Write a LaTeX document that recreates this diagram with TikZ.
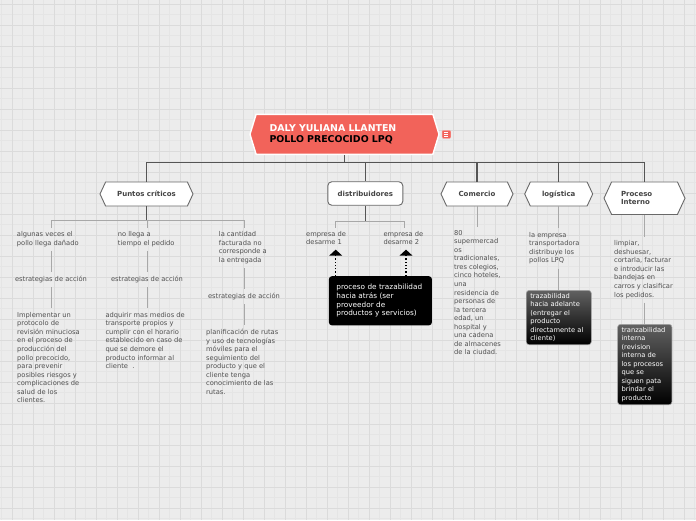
\documentclass[tikz,border=0pt]{standalone}
\usepackage{fontspec}
\setmainfont{DejaVu Sans}
\usepackage{tikz}
\usetikzlibrary{arrows.meta,positioning,calc,shapes.symbols}
\definecolor{mapbg}{RGB}{236,236,236}
\definecolor{mapgridmajor}{RGB}{219,219,219}
\definecolor{mapgridminor}{RGB}{229,229,229}
\definecolor{maptitle}{RGB}{242,99,90}
\definecolor{mapline}{RGB}{85,85,85}
\definecolor{mapthin}{RGB}{168,168,168}
\definecolor{mapedge}{RGB}{105,105,105}
\definecolor{maptext}{RGB}{80,80,80}
\tikzset{
  maintopic/.style={
    signal,
    signal to=west and east,
    signal pointer angle=146,
    draw=white,
    line width=1.4pt,
    fill=maptitle,
    minimum width=189pt,
    minimum height=40pt,
    text width=150pt,
    align=left,
    inner sep=0pt,
    font=\bfseries\fontsize{9.4}{10.7}\selectfont
  },
  hexbox/.style={
    signal,
    signal to=west and east,
    signal pointer angle=130,
    draw=mapedge,
    fill=white,
    line width=0.9pt,
    minimum height=24pt,
    inner sep=0pt,
    align=left,
    text=maptext!85!black,
    font=\bfseries\fontsize{7}{8.4}\selectfont
  },
  roundbox/.style={
    draw=mapedge,
    fill=white,
    rounded corners=4pt,
    line width=0.9pt,
    minimum width=75pt,
    minimum height=23.5pt,
    inner sep=0pt,
    text=maptext!85!black,
    font=\bfseries\fontsize{7}{8.4}\selectfont
  },
  leaf/.style={
    anchor=north west,
    inner sep=0pt,
    align=left,
    text=maptext,
    font=\fontsize{6.7}{8.55}\selectfont
  },
  strat/.style={
    inner sep=0pt,
    text=maptext,
    font=\fontsize{6.7}{8.55}\selectfont
  },
  blackbox/.style={
    anchor=north west,
    fill=black,
    rounded corners=3pt,
    text=white,
    align=left,
    inner xsep=7.5pt,
    inner ysep=8pt,
    text width=88pt,
    minimum height=49pt,
    font=\fontsize{7.3}{8.7}\selectfont
  },
  shadebox/.style={
    anchor=north west,
    top color=black!62,
    bottom color=black,
    draw=black!35,
    line width=0.6pt,
    rounded corners=3pt,
    text=white,
    align=left,
    inner xsep=4pt,
    inner ysep=3pt,
    font=\fontsize{6.7}{8.5}\selectfont
  },
  noteicon/.style={
    fill=maptitle,
    draw=maptitle!55!white,
    rounded corners=1pt,
    minimum width=8.7pt,
    minimum height=8pt,
    inner sep=0pt
  },
  trunk/.style={draw=mapline,line width=1.3pt},
  twig/.style={draw=mapthin,line width=1pt},
  gap/.style={shorten <=4pt,shorten >=4pt},
  backarr/.style={-{Triangle[width=12.7pt,length=6pt]},dotted,line width=1.3pt,black}
}
\begin{document}
\begin{tikzpicture}[x=1pt,y=-1pt]
  % background grid
  \fill[mapbg] (0,0) rectangle (696,520);
  \useasboundingbox (0,0) rectangle (696,520);
  \foreach \gx in {0,...,66} \draw[mapgridminor,line width=0.7pt] ({1.8+\gx*10.5},0) -- ({1.8+\gx*10.5},520);
  \foreach \gy in {0,...,49} \draw[mapgridminor,line width=0.7pt] (0,{4.3+\gy*10.5}) -- (696,{4.3+\gy*10.5});
  \foreach \gx in {0,...,32} \draw[mapgridmajor,line width=0.9pt] ({12.3+\gx*21},0) -- ({12.3+\gx*21},520);
  \foreach \gy in {0,...,24} \draw[mapgridmajor,line width=0.9pt] (0,{4.3+\gy*21}) -- (696,{4.3+\gy*21});

  % central topic
  \node[maintopic] (title) at (344.5,134.3) {\textcolor{white}{DALY YULIANA LLANTEN}\\POLLO PRECOCIDO LPQ};
  \node[noteicon] (note) at (446.4,134.3) {};
  \foreach \dy in {-2,0,2}
    \draw[white,line width=0.6pt] ([xshift=-2pt,yshift=\dy pt]note.center) -- ([xshift=2pt,yshift=\dy pt]note.center);

  % main branches
  \node[hexbox,minimum width=93pt] (pc) at (146.5,194) {Puntos críticos};
  \node[roundbox] (ds) at (365.3,193.5) {distribuidores};
  \node[hexbox,minimum width=72pt] (cm) at (477,194) {Comercio};
  \node[hexbox,minimum width=68pt] (lg) at (558.7,194) {logística};
  \node[hexbox,minimum width=81pt,minimum height=32.5pt,text width=47pt] (pi) at (644.5,198.2) {Proceso\\Interno};

  \coordinate (hub) at (344.5,162.7);
  \draw[trunk] (title.south) -- (hub);
  \foreach \t in {pc,ds,cm,lg,pi}
    \draw[trunk] (hub) -| (\t.north);

  % puntos criticos
  \node[leaf] (p1) at (16.7,231.5) {algunas veces el\\pollo llega dañado};
  \node[leaf] (p2) at (117.7,231.5) {no llega a\\tiempo el pedido};
  \node[leaf] (p3) at (218.7,231.5) {la cantidad\\facturada no\\corresponde a\\la entregada};
  \node[strat] (e1) at (51,279.5) {estrategias de acción};
  \node[strat] (e2) at (147,279.5) {estrategias de acción};
  \node[strat] (e3) at (244,296.5) {estrategias de acción};
  \node[leaf] (s1) at (17,312) {Implementar un\\protocolo de\\revisión minuciosa\\en el proceso de\\producción del\\pollo precocido,\\para prevenir\\posibles riesgos y\\complicaciones de\\salud de los\\clientes.};
  \node[leaf] (s2) at (105.3,312) {adquirir mas medios de\\transporte propios y\\cumplir con el horario\\establecido en caso de\\que se demore el\\producto informar al\\cliente\ \ .};
  \node[leaf] (s3) at (206,329) {planificación de rutas\\y uso de tecnologías\\móviles para el\\seguimiento del\\producto y que el\\cliente tenga\\conocimiento de las\\rutas.};

  \coordinate (pc-hub) at ($(pc.south)+(0,14.5)$);
  \draw[trunk] (pc.south) -- (pc-hub);
  \foreach \e in {e1,e2,e3}
    \draw[twig,shorten >=4pt] (pc-hub) -| (\e.north |- p1.north);
  \draw[twig,gap] (e1.north |- p1.south) -- (e1.north);
  \draw[twig,gap] (e2.north |- p2.south) -- (e2.north);
  \draw[twig,gap] (e3.north |- p3.south) -- (e3.north);
  \draw[twig,gap] (e1.south) -- (e1.south |- s1.north);
  \draw[twig,gap] (e2.south) -- (e2.south |- s2.north);
  \draw[twig,gap] (e3.south) -- (e3.south |- s3.north);

  % distribuidores
  \node[leaf] (d1) at (306,231) {empresa de\\desarme 1};
  \node[leaf] (d2) at (383.3,231) {empresa de\\desarme 2};
  \node[blackbox] (bk) at (328.7,276) {proceso de trazabilidad\\hacia atrás (ser\\proveedor de\\productos y servicios)};
  \coordinate (ds-hub) at ($(ds.south)+(0,15.3)$);
  \coordinate (d1-in) at (335.7,227.5);
  \coordinate (d2-in) at (404.3,227.5);
  \draw[trunk] (ds.south) -- (ds-hub);
  \draw[twig] (ds-hub) -| (d1-in);
  \draw[twig] (ds-hub) -| (d2-in);
  \draw[backarr,shorten >=4.5pt] (bk.north -| d1-in) -- (d1-in |- d1.south);
  \draw[backarr,shorten >=4.5pt] ([xshift=1.7pt]bk.north -| d2-in) -- ([xshift=1.7pt]d2-in |- d2.south);

  % comercio
  \node[leaf] (c1) at (454,230) {80\\supermercad\\os\\tradicionales,\\tres colegios,\\cinco hoteles,\\una\\residencia de\\personas de\\la tercera\\edad, un\\hospital y\\una cadena\\de almacenes\\de la ciudad.};
  \draw[twig,shorten >=3pt] (cm.south) -- (cm.south |- c1.north);

  % logistica
  \node[leaf] (l1) at (529,232) {la empresa\\transportadora\\distribuye los\\pollos LPQ};
  \node[shadebox,text width=57pt] (lb) at (526,290) {trazabilidad\\hacia adelante\\(entregar el\\producto\\directamente al\\cliente)};
  \draw[twig,shorten >=4pt] (lg.south) -- (lg.south |- l1.north);
  \draw[twig,shorten <=4pt] (lg.south |- l1.south) -- (lg.south |- lb.north);

  % proceso interno
  \node[leaf] (i1) at (614,240.5) {limpiar,\\deshuesar,\\cortarla, facturar\\e introducir las\\bandejas en\\carros y clasificar\\los pedidos.};
  \node[shadebox,text width=46.4pt] (ib) at (617.3,324) {tranzabilidad\\interna\\(revision\\interna de\\los procesos\\que se\\siguen pata\\brindar el\\producto};
  \draw[twig,shorten >=4pt] (pi.south) -- (pi.south |- i1.north);
  \draw[twig,shorten <=4pt] (pi.south |- i1.south) -- (pi.south |- ib.north);
\end{tikzpicture}
\end{document}
